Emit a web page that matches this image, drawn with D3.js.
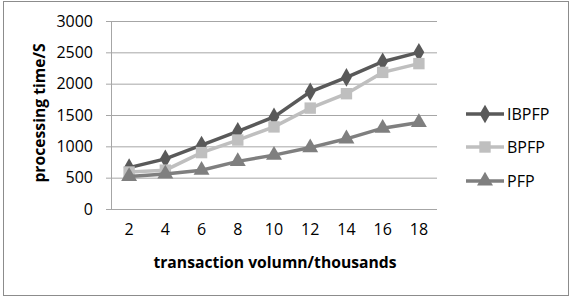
<!DOCTYPE html>
<html>
<head>
<meta charset="utf-8">
<script src="https://cdn.jsdelivr.net/npm/d3@7/dist/d3.min.js"></script>
<style>
  body { margin: 0; background: #fff; }
  text { font-family: "Open Sans", sans-serif; fill: #000; }
</style>
</head>
<body>
<div id="chart"></div>
<script>
// values
const categories = ["2", "4", "6", "8", "10", "12", "14", "16", "18"];
const ibpfpValues = [660, 800, 1020, 1240, 1470, 1870, 2100, 2350, 2500];
const bpfpValues = [590, 620, 900, 1100, 1310, 1610, 1840, 2180, 2320];
const pfpValues = [520, 560, 620, 760, 860, 980, 1120, 1290, 1380];
const yTicks = [0, 500, 1000, 1500, 2000, 2500, 3000];
const seriesNames = ["IBPFP", "BPFP", "PFP"];

const series = [
    { name: seriesNames[0], values: ibpfpValues, color: "#595959", symbol: d3.symbolDiamond, size: 100 },
    { name: seriesNames[1], values: bpfpValues, color: "#bfbfbf", symbol: d3.symbolSquare, size: 130 },
    { name: seriesNames[2], values: pfpValues, color: "#7f7f7f", symbol: d3.symbolTriangle, size: 110 }
];

const width = 572, height = 298;
const margin = { top: 21, left: 111, right: 135, bottom: 89 };
const innerW = width - margin.left - margin.right;
const innerH = height - margin.top - margin.bottom;

const svg = d3.select("#chart").append("svg")
    .attr("width", width)
    .attr("height", height);

// outer border
svg.append("rect")
    .attr("x", 3.5).attr("y", 1.5)
    .attr("width", 565).attr("height", 294)
    .attr("fill", "#fff")
    .attr("stroke", "#8c8c8c");

const g = svg.append("g")
    .attr("transform", `translate(${margin.left},${margin.top})`);

const x = d3.scaleBand().domain(categories).range([0, innerW]);
const y = d3.scaleLinear().domain([0, 3000]).range([innerH, 0]);

// gridlines
g.selectAll(".grid")
    .data(yTicks)
    .enter()
    .append("line")
    .attr("x1", -5)
    .attr("x2", innerW)
    .attr("y1", d => y(d) + 0.5)
    .attr("y2", d => y(d) + 0.5)
    .attr("stroke", "#a6a6a6")
    .attr("stroke-width", 1);

// y axis line
g.append("line")
    .attr("x1", 0.5).attr("x2", 0.5)
    .attr("y1", 0).attr("y2", innerH)
    .attr("stroke", "#a6a6a6");

// y tick labels
const yAxis = g.append("g")
    .call(d3.axisLeft(y).tickValues(yTicks).tickFormat(d3.format("d")).tickSize(0).tickPadding(18));
yAxis.select(".domain").remove();
yAxis.selectAll("text")
    .attr("font-family", "Open Sans")
    .attr("font-size", 16)
    .attr("fill", "#000");

// x tick labels
const xAxis = g.append("g")
    .attr("transform", `translate(0,${innerH})`)
    .call(d3.axisBottom(x).tickSize(0).tickPadding(15));
xAxis.select(".domain").remove();
xAxis.selectAll("text")
    .attr("font-family", "Open Sans")
    .attr("font-size", 16)
    .attr("fill", "#000");

// axis titles
svg.append("text")
    .attr("x", 275)
    .attr("y", 268)
    .attr("text-anchor", "middle")
    .attr("font-weight", "bold")
    .attr("font-size", 15.7)
    .text("transaction volumn/thousands");

svg.append("text")
    .attr("transform", "translate(45,113) rotate(-90)")
    .attr("text-anchor", "middle")
    .attr("font-weight", "bold")
    .attr("font-size", 15.7)
    .text("processing time/S");

// lines and markers
const line = d3.line()
    .x((d, i) => x(categories[i]) + x.bandwidth() / 2)
    .y(d => y(d));

series.forEach(s => {
    g.append("path")
        .datum(s.values)
        .attr("fill", "none")
        .attr("stroke", s.color)
        .attr("stroke-width", 3.5)
        .attr("d", line);

    g.selectAll(".m-" + s.name)
        .data(s.values)
        .enter()
        .append("path")
        .attr("class", "m-" + s.name)
        .attr("transform", (d, i) => `translate(${x(categories[i]) + x.bandwidth() / 2},${y(d)})`)
        .attr("d", d3.symbol().type(s.symbol).size(s.size))
        .attr("fill", s.color);
});

// legend
const legendY = [114, 147, 181];
series.forEach((s, i) => {
    const lg = svg.append("g").attr("transform", `translate(466,${legendY[i]})`);
    lg.append("line")
        .attr("x1", 0).attr("x2", 38)
        .attr("stroke", s.color)
        .attr("stroke-width", 3.5);
    lg.append("path")
        .attr("transform", "translate(19,0)")
        .attr("d", d3.symbol().type(s.symbol).size(s.size))
        .attr("fill", s.color);
    lg.append("text")
        .attr("x", 41)
        .attr("y", 6)
        .attr("font-size", 16)
        .text(s.name);
});
</script>
</body>
</html>
